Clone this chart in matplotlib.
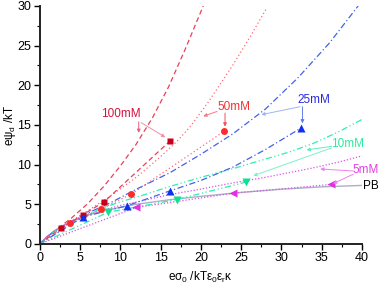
import matplotlib
matplotlib.use('Agg')
import matplotlib.pyplot as plt
from matplotlib.ticker import MultipleLocator

plt.rcParams['font.family'] = ['Liberation Sans', 'DejaVu Sans']
plt.rcParams['mathtext.fontset'] = 'custom'
plt.rcParams['mathtext.rm'] = 'Liberation Sans'
plt.rcParams['mathtext.it'] = 'Liberation Sans'

# PB curve
pb_x = [0, 1, 2, 3, 4, 6, 8, 10, 12, 16, 20, 25, 30, 35, 40]
pb_y = [0, 0.96, 1.76, 2.39, 2.89, 3.64, 4.19, 4.62, 5.0, 5.56, 6.0, 6.5, 6.9, 7.2, 7.38]

# theory curves (run to the frame edge)
th100_x = [0, 1, 2, 4, 6, 8, 10, 12, 14, 16, 18, 20.3]
th100_y = [0, 0.95, 1.75, 3.3, 5.1, 7.3, 9.8, 12.6, 15.9, 19.8, 24.4, 30]
th50_x = [0, 1, 2, 3, 6, 9, 12, 15, 17, 18.7, 21, 24, 26.1, 28.2]
th50_y = [0, 0.95, 1.72, 2.3, 4.2, 6.2, 8.4, 11.0, 12.9, 14.8, 18.0, 22.6, 26.1, 29.8]
th25_x = [0, 1, 2, 3, 6, 9, 12, 16.2, 20, 24, 28, 32, 36, 39.5]
th25_y = [0, 0.95, 1.7, 2.25, 3.9, 5.3, 6.9, 9.0, 11.3, 13.9, 17.0, 20.9, 25.4, 30]
th10_x = [0, 1, 2, 4, 6, 8, 10, 13, 16, 20, 24, 28, 31, 34, 37, 40]
th10_y = [0, 0.95, 1.7, 2.9, 3.8, 4.6, 5.3, 6.2, 7.2, 8.4, 9.5, 10.7, 11.6, 12.7, 14.1, 15.7]
th5_x = [0, 1, 2, 4, 6, 8, 10, 13, 16, 19.9, 24, 28, 33.5, 37, 40]
th5_y = [0, 0.95, 1.72, 2.9, 3.7, 4.3, 4.85, 5.5, 6.2, 6.9, 7.7, 8.4, 9.5, 10.3, 11.1]

# simulation points
sq_x = [2.7, 5.4, 8.0, 16.2]
sq_y = [2.0, 3.7, 5.3, 13.0]
ci_x = [3.8, 7.6, 11.4, 22.9]
ci_y = [2.6, 4.4, 6.3, 14.2]
up_x = [5.4, 10.8, 16.2, 32.4]
up_y = [3.4, 4.8, 6.7, 14.6]
dn_x = [8.5, 17.0, 25.6]
dn_y = [4.0, 5.6, 7.8]
lt_x = [12.0, 24.0, 36.2]
lt_y = [4.6, 6.4, 7.5]

# lines through the simulation points
l100_x = [0, 2.7, 5.4, 8.0, 16.2]
l100_y = [0, 2.0, 3.7, 5.3, 13.0]
l50_x = [0, 3.8, 7.6, 11.4, 22.9]
l50_y = [0, 2.6, 4.4, 6.3, 14.2]
l25_x = [0, 5.4, 10.8, 16.2, 20, 24, 28, 32.4]
l25_y = [0, 3.4, 4.8, 6.7, 8.0, 9.7, 11.9, 14.6]
l10_x = [0, 8.5, 17.0, 25.6]
l10_y = [0, 4.0, 5.6, 7.8]
l5_x = [0, 12.0, 24.0, 36.2]
l5_y = [0, 4.6, 6.4, 7.5]

fig = plt.figure(figsize=(3.8, 2.85), dpi=100)
ax = fig.add_axes([0.104, 0.144, 0.849, 0.835])

lw = 0.9
ax.plot(pb_x, pb_y, color='#a8b2c4', lw=1.0)

ax.plot(th100_x, th100_y, color='#e8405a', lw=lw, ls=(0, (4, 2.5)))
ax.plot(th50_x, th50_y, color='#ff6878', lw=lw, ls=(0, (1, 2)))
ax.plot(th25_x, th25_y, color='#4262ea', lw=lw, ls=(0, (5, 2, 1, 2)))
ax.plot(th10_x, th10_y, color='#30eeb0', lw=lw, ls=(0, (5, 2, 1, 2, 1, 2)))
ax.plot(th5_x, th5_y, color='#e050e8', lw=lw, ls=(0, (1, 1.5)))

ax.plot(l100_x, l100_y, color='#e8405a', lw=lw, ls=(0, (4, 2.5)))
ax.plot(l50_x, l50_y, color='#ff6878', lw=lw, ls=(0, (1, 2)))
ax.plot(l25_x, l25_y, color='#4262ea', lw=lw, ls=(0, (5, 2, 1, 2)))
ax.plot(l10_x, l10_y, color='#30eeb0', lw=lw, ls=(0, (5, 2, 1, 2, 1, 2)))
ax.plot(l5_x, l5_y, color='#e050e8', lw=lw, ls=(0, (1, 1.5)))

ax.plot(sq_x, sq_y, 's', color='#c8001e', ms=4.5, mec='none')
ax.plot(ci_x, ci_y, 'o', color='#ff2a2a', ms=5, mec='none')
ax.plot(up_x, up_y, '^', color='#1030f0', ms=5.5, mec='none')
ax.plot(dn_x, dn_y, 'v', color='#10e090', ms=5.5, mec='none')
ax.plot(lt_x, lt_y, '<', color='#e030e0', ms=5.5, mec='none')

fs = 8.5
def arrow(x0, y0, x1, y1, c):
    ax.annotate('', xy=(x1, y1), xytext=(x0, y0),
                arrowprops=dict(arrowstyle='-|>', color=c, lw=0.7,
                                mutation_scale=5, shrinkA=0, shrinkB=0))

ax.text(10.1, 16.4, '100mM', color='#d0143c', fontsize=fs, ha='center', va='center')
arrow(12.3, 15.4, 12.3, 14.0, '#e86080')
arrow(12.6, 15.3, 15.6, 13.45, '#f090a8')

ax.text(24.1, 17.3, '50mM', color='#f03535', fontsize=fs, ha='center', va='center')
arrow(22.0, 16.7, 20.3, 16.1, '#f87888')
arrow(23.0, 16.5, 23.0, 14.8, '#f05060')

ax.text(34.0, 18.2, '25mM', color='#2a2ae0', fontsize=fs, ha='center', va='center')
arrow(32.3, 17.3, 27.5, 16.3, '#a0b4f4')
arrow(32.6, 17.3, 32.6, 15.2, '#6080e8')

ax.text(38.2, 12.6, '10mM', color='#30e8a0', fontsize=fs, ha='center', va='center')
arrow(36.2, 12.3, 33.1, 11.85, '#60eebc')
arrow(36.2, 12.1, 26.5, 8.6, '#80f0c8')

ax.text(40.4, 9.3, '5mM', color='#e040e0', fontsize=fs, ha='center', va='center')
arrow(38.9, 9.2, 34.8, 9.45, '#f080f0')
arrow(38.9, 8.8, 36.4, 7.6, '#f080f0')

ax.text(41.1, 7.3, 'PB', color='black', fontsize=fs, ha='center', va='center')

ax.set_xlim(0, 40)
ax.set_ylim(0, 30)
ax.xaxis.set_major_locator(MultipleLocator(5))
ax.xaxis.set_minor_locator(MultipleLocator(2.5))
ax.yaxis.set_major_locator(MultipleLocator(5))
ax.yaxis.set_minor_locator(MultipleLocator(2.5))
ax.tick_params(which='major', direction='out', length=4, width=1, labelsize=9, pad=2)
ax.tick_params(which='minor', direction='out', length=2, width=0.8)
ax.spines['top'].set_visible(False)
ax.spines['right'].set_visible(False)
for s in ['left', 'bottom']:
    ax.spines[s].set_linewidth(1.4)
    ax.spines[s].set_color('#222222')

ax.set_xlabel(r'e$\sigma_0$ /kT$\varepsilon_0\varepsilon_r\kappa$', fontsize=8.5)
ax.set_ylabel(r'e$\psi_d$ /kT', fontsize=8.5)
ax.xaxis.set_label_coords(0.5, -0.11)
ax.yaxis.set_label_coords(-0.066, 0.5)

fig.savefig('out.png', dpi=100)
